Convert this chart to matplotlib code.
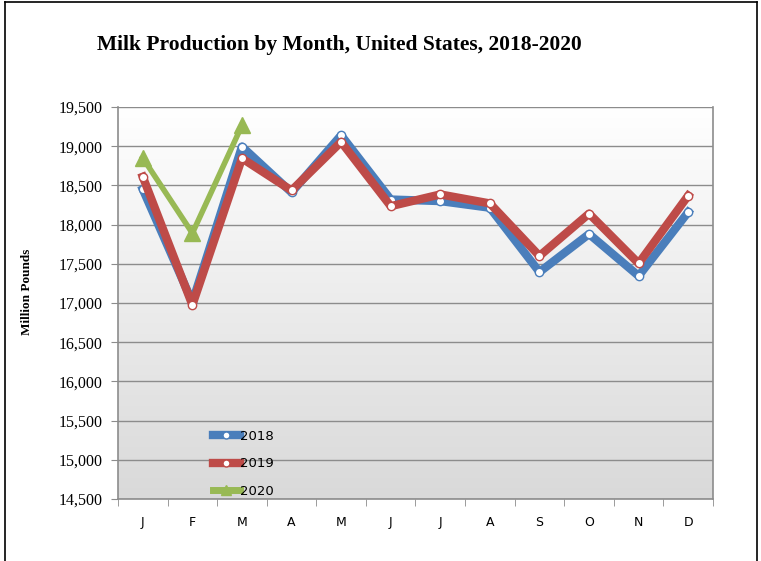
import numpy as np
import matplotlib
matplotlib.use('Agg')
import matplotlib.pyplot as plt
import matplotlib.ticker as tck
from matplotlib.lines import Line2D

months = ['J', 'F', 'M', 'A', 'M', 'J', 'J', 'A', 'S', 'O', 'N', 'D']
milk_2018 = [18450, 17010, 18995, 18410, 19140, 18320, 18300, 18215, 17395, 17880, 17345, 18160]
milk_2019 = [18610, 16975, 18845, 18435, 19055, 18235, 18385, 18270, 17600, 18140, 17505, 18370]
milk_2020 = [18850, 17890, 19265]

blue = '#4a7ebb'
red = '#be4b48'
green = '#98b954'

fig = plt.figure(figsize=(7.61, 5.61), dpi=100)

# outer frame of the picture (top, left, right)
fig.add_artist(Line2D([5/761, 5/761], [0, 1 - 2/561], color='black', lw=1.2,
                      transform=fig.transFigure))
fig.add_artist(Line2D([5/761, 757/761], [1 - 2/561, 1 - 2/561], color='black',
                      lw=1.2, transform=fig.transFigure))
fig.add_artist(Line2D([757/761, 757/761], [0, 1 - 2/561], color='black',
                      lw=1.2, transform=fig.transFigure))

ax = fig.add_axes([118/761, 1 - 499/561, (713 - 118)/761, 392/561])
x = np.arange(len(months))
ax.set_xlim(-0.5, 11.5)
ax.set_ylim(14500, 19500)

# gradient background
grad = np.linspace(0, 1, 256).reshape(-1, 1)
cmap = matplotlib.colors.LinearSegmentedColormap.from_list('bg', ['#d9d9d9', '#ffffff'])
ax.imshow(grad, aspect='auto', cmap=cmap, origin='lower',
          extent=[-0.5, 11.5, 14500, 19500], zorder=0)

ax.yaxis.set_major_locator(tck.MultipleLocator(500))
ax.yaxis.set_major_formatter(tck.FuncFormatter(lambda v, p: '{:,.0f}'.format(v)))
ax.grid(axis='y', color='#8c8c8c', lw=1.0, zorder=1)
ax.set_axisbelow(True)

for s in ['left', 'bottom', 'right', 'top']:
    ax.spines[s].set_color('#8c8c8c')
    ax.spines[s].set_linewidth(1.2)
ax.spines['top'].set_visible(False)

ax.set_xticks(x)
ax.set_xticklabels(months, fontfamily='DejaVu Sans', fontsize=9)
ax.set_xticks(np.arange(-0.5, 12, 1), minor=True)
ax.tick_params(axis='x', which='major', length=0, pad=12)
ax.tick_params(axis='x', which='minor', length=5, color='#8c8c8c', direction='out')
ax.tick_params(axis='y', length=5, color='#8c8c8c', pad=6)
for lab in ax.get_yticklabels():
    lab.set_fontfamily('Liberation Serif')
    lab.set_fontsize(11.5)

mk = dict(marker='o', markersize=6, markerfacecolor='white', markeredgewidth=1.0)
ax.plot(x, milk_2018, color=blue, lw=6, solid_joinstyle='round',
        markeredgecolor=blue, label='2018', zorder=3, **mk)
ax.plot(x, milk_2019, color=red, lw=6, solid_joinstyle='round',
        markeredgecolor=red, label='2019', zorder=4, **mk)
ax.plot(x[:len(milk_2020)], milk_2020, color=green, lw=4, marker='^',
        markersize=11, markerfacecolor=green, markeredgecolor=green,
        label='2020', zorder=5)

leg = ax.legend(loc='lower left', bbox_to_anchor=(0.14, -0.028), frameon=False,
                handlelength=2.0, handletextpad=0.05, labelspacing=1.12,
                prop={'family': 'DejaVu Sans', 'size': 9.5})
for h in leg.legend_handles:
    h.set_markersize(5)
leg.legend_handles[2].set_markersize(7)
leg.legend_handles[2].set_linewidth(5)

fig.text(97/761, 1 - 45/561, 'Milk Production by Month, United States, 2018-2020',
         fontfamily='Liberation Serif', fontweight='bold', fontsize=15.5,
         ha='left', va='center')
fig.text(27/761, 1 - 292/561, 'Million Pounds', rotation=90,
         fontfamily='Liberation Serif', fontweight='bold', fontsize=9.5,
         ha='center', va='center')

fig.savefig('out.png', dpi=100)
